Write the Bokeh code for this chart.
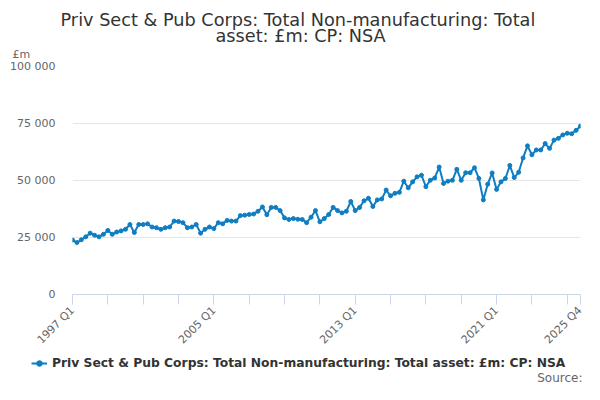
import math
from bokeh.plotting import figure
from bokeh.layouts import column
from bokeh.models import Range1d, FixedTicker, Label, Legend, LegendItem, ColumnDataSource, Title
from bokeh.embed import file_html
from bokeh.resources import INLINE

values = [
    23900, 22800, 24000, 25300, 26900, 26000, 25300, 26400, 28100, 26400,
    27400, 27900, 28600, 30700, 27200, 30700, 30700, 31000, 29600, 29300,
    28600, 29300, 29600, 32200, 32000, 31500, 29300, 29600, 30700, 26900,
    28600, 29600, 28900, 31500, 31000, 32500, 32200, 32200, 34600, 34800,
    35100, 35300, 36500, 38400, 35000, 38200, 38200, 36800, 33600, 32900,
    33300, 33000, 32900, 31500, 33900, 36800, 31900, 33300, 35100, 38200,
    36800, 35800, 36500, 40800, 36800, 38200, 41100, 42200, 38600, 41500,
    41900, 45800, 43300, 44400, 44800, 49700, 46800, 49400, 51600, 52300,
    47300, 50100, 51100, 55900, 48700, 49700, 50100, 54900, 50100, 53400,
    53400, 55600, 50900, 41500, 48400, 53300, 46100, 49400, 50900, 56600,
    51300, 53600, 59900, 65200, 61300, 63400, 63400, 66200, 64100, 67700,
    68500, 70000, 70700, 70500, 72000, 73900,
]
quarters = [f"{1997 + i // 4} Q{i % 4 + 1}" for i in range(len(values))]
x_tick_labels = ["1997 Q1", "2005 Q1", "2013 Q1", "2021 Q1", "2025 Q4"]
y_ticks = [0, 25000, 50000, 75000, 100000]
y_tick_labels = ["0", "25 000", "50 000", "75 000", "100 000"]
title_lines = ["Priv Sect & Pub Corps: Total Non-manufacturing: Total", "asset: £m: CP: NSA"]
unit_text = "£m"
source_text = "Source:"
series_name = "Priv Sect & Pub Corps: Total Non-manufacturing: Total asset: £m: CP: NSA"

FONT = "DejaVu Sans"
BLUE = "#0f7dc2"

idx = list(range(len(values)))
src = ColumnDataSource(dict(x=idx, y=values, q=quarters))

p = figure(width=584, height=354, output_backend="svg", toolbar_location=None,
           title=None, x_range=Range1d(0, len(values) - 1), y_range=Range1d(0, 100000),
           min_border_left=72, min_border_right=4, min_border_top=66, min_border_bottom=57)
p.outline_line_color = None
p.background_fill_color = "white"
p.border_fill_color = "white"
p.frame_align = False

line = p.line("x", "y", source=src, line_color=BLUE, line_width=2)
pts = p.scatter("x", "y", source=src, size=4, fill_color=BLUE, line_color=BLUE)

# x axis
xt = sorted(set(list(range(0, len(values), 8)) + [len(values) - 1]))
p.xaxis.ticker = FixedTicker(ticks=xt)
p.xaxis.major_label_overrides = {t: (quarters[t] if quarters[t] in x_tick_labels else "") for t in xt}
p.xaxis.major_label_orientation = math.pi / 4
p.xaxis.axis_line_color = "#ccd6eb"
p.xaxis.major_tick_line_color = "#ccd6eb"
p.xaxis.major_tick_out = 10
p.xaxis.major_tick_in = 0
p.xaxis.minor_tick_line_color = None
p.xaxis.major_label_text_font = FONT
p.xaxis.major_label_text_font_size = "11px"
p.xaxis.major_label_text_color = "#666666"
p.xaxis.major_label_standoff = 4

# y axis
p.yaxis.ticker = FixedTicker(ticks=y_ticks)
p.yaxis.major_label_overrides = {t: l for t, l in zip(y_ticks, y_tick_labels)}
p.yaxis.axis_line_color = None
p.yaxis.major_tick_line_color = None
p.yaxis.minor_tick_line_color = None
p.yaxis.major_label_text_font = FONT
p.yaxis.major_label_text_font_size = "11px"
p.yaxis.major_label_text_color = "#666666"
p.yaxis.major_label_standoff = 11

p.xgrid.grid_line_color = None
p.ygrid.grid_line_color = "#e6e6e6"

# titles (added nearest-first)
p.add_layout(Title(text=unit_text, align="left", offset=-60, text_font=FONT,
                   text_font_size="11px", text_color="#666666", text_font_style="normal",
                   standoff=12), "above")
p.add_layout(Title(text=title_lines[1], align="left", offset=143, text_font=FONT,
                   text_font_size="17.7px", text_color="#333333", text_font_style="normal",
                   standoff=-13), "above")
p.add_layout(Title(text=title_lines[0], align="left", offset=-12, text_font=FONT,
                   text_font_size="17.7px", text_color="#333333", text_font_style="normal",
                   standoff=1), "above")

# legend strip below the chart
p2 = figure(width=584, height=30, output_backend="svg", toolbar_location=None,
            title=None, x_range=Range1d(0, 1), y_range=Range1d(0, 1),
            min_border=0, x_axis_type=None, y_axis_type=None)
p2.outline_line_color = None
p2.grid.grid_line_color = None
p2.frame_align = False
nan = float("nan")
dummy = ColumnDataSource(dict(x=[nan], y=[nan]))
l2 = p2.line("x", "y", source=dummy, line_color=BLUE, line_width=2)
s2 = p2.scatter("x", "y", source=dummy, size=4, fill_color=BLUE, line_color=BLUE)
legend = Legend(items=[LegendItem(label=series_name, renderers=[l2, s2])],
                location=(31, 14), orientation="horizontal",
                label_text_font=FONT, label_text_font_size="12.3px",
                label_text_font_style="bold", label_text_color="#333333",
                border_line_color=None, background_fill_alpha=0,
                glyph_width=16, glyph_height=14, label_height=14,
                label_standoff=5, padding=0, margin=0)
p2.add_layout(legend, "center")
p2.add_layout(Label(x=582, y=7, x_units="screen", y_units="screen", text=source_text,
                    text_align="right", text_baseline="middle", text_font=FONT,
                    text_font_size="12px", text_color="#666666"))

layout = column(p, p2, spacing=0)
open("out.html", "w").write(file_html(layout, INLINE))
